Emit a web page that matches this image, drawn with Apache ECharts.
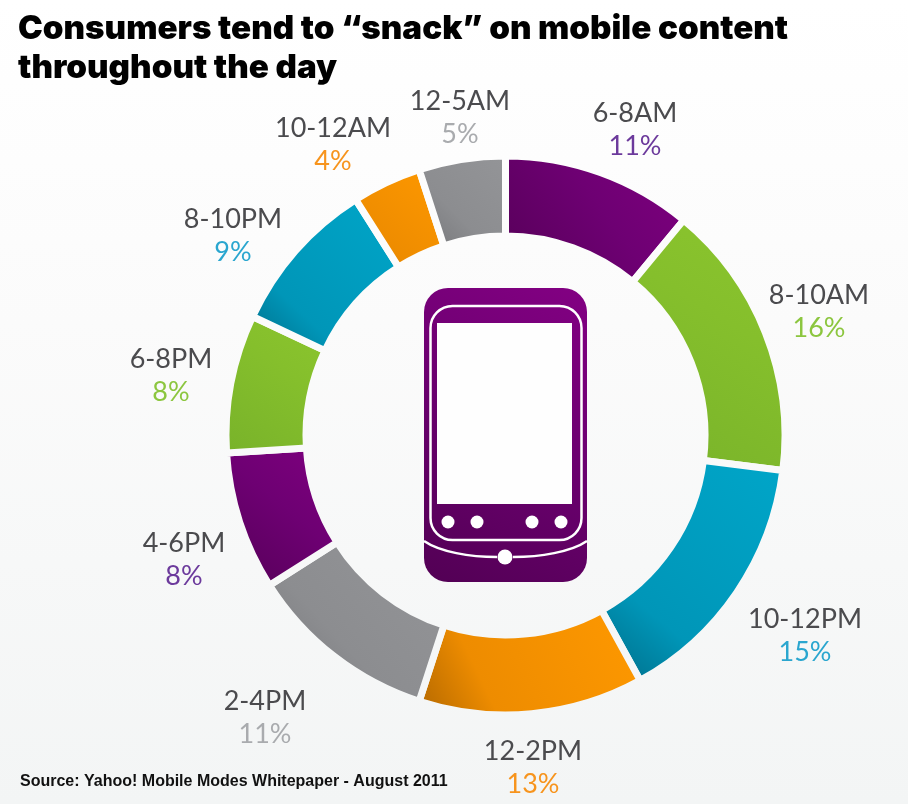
<!DOCTYPE html>
<html><head><meta charset="utf-8">
<style>html,body{margin:0;padding:0;background:#fff}#c{width:908px;height:804px}</style>
<script src="https://cdn.jsdelivr.net/npm/echarts@6/dist/echarts.min.js"></script>
</head><body><div id="c"></div>
<script>
const categories = ['6-8AM','8-10AM','10-12PM','12-2PM','2-4PM','4-6PM','6-8PM','8-10PM','10-12AM','12-5AM'];
const shares = [11,16,15,13,11,8,8,9,4,5];
const hues = ['purple','green','blue','orange','gray','purple','green','blue','orange','gray'];
const titleText = 'Consumers tend to “snack” on mobile content\nthroughout the day';
const sourceText = 'Source: Yahoo! Mobile Modes Whitepaper - August 2011';

// Styling tables (not data)
const labelCentres = [[635,130],[819,312],[805,636],[533,768],[265,718],[184,560],[171,376],[233,236],[333,145],[460,118]];
const sliceStops = {
  purple:[[0,'#540056'],[0.55,'#6e0073'],[1,'#800080']],
  green:[[0,'#78b22a'],[0.6,'#85bf2c'],[1,'#8cc62e']],
  blue:[[0,'#006a85'],[0.3,'#0096b8'],[1,'#00a6c9']],
  orange:[[0,'#b06600'],[0.3,'#ee8c00'],[1,'#ff9900']],
  gray:[[0,'#737477'],[0.4,'#8c8d90'],[1,'#949598']]
};
const pctColours = {purple:'#6c3a9c',green:'#8cc63f',blue:'#2aa6cf',orange:'#f7941d',gray:'#a9abae'};
const bgStops = [{offset:0,color:'#ffffff'},{offset:0.4,color:'#fbfbfb'},{offset:1,color:'#f3f5f5'}];
const bg = {type:'linear',x:0,y:0,x2:0,y2:804,global:true,colorStops:bgStops};

const grad = h => ({type:'linear',x:0,y:1,x2:1,y2:0,colorStops:sliceStops[h].map(s=>({offset:s[0],color:s[1]}))});
const rich = {n:{fontFamily:'Lato',fontSize:27,color:'#4b4b4e',lineHeight:33,align:'center'}};
Object.keys(pctColours).forEach(k=>{rich[k]={fontFamily:'Lato',fontSize:27,color:pctColours[k],lineHeight:33,align:'center'};});

const phoneFill = {type:'linear',x:0,y:1,x2:1,y2:0,colorStops:[{offset:0,color:'#520054'},{offset:0.5,color:'#6a006e'},{offset:1,color:'#830083'}]};
const phone = [
  {type:'rect',shape:{x:424,y:288,width:163,height:294,r:24},style:{fill:phoneFill}},
  {type:'rect',shape:{x:430.5,y:306,width:151,height:234,r:22},style:{fill:'none',stroke:'#fff',lineWidth:2.5}},
  {type:'rect',shape:{x:437,y:323,width:135,height:181},style:{fill:'#fefefe'}},
  ...[448,477,532,561].map(x=>({type:'circle',shape:{cx:x,cy:522,r:6.5},style:{fill:'#fff'}})),
  {type:'bezierCurve',shape:{x1:424,y1:541,cpx1:440,cpy1:552,x2:497,y2:557,cpx2:470,cpy2:557},style:{fill:'none',stroke:'#fff',lineWidth:2.5}},
  {type:'bezierCurve',shape:{x1:587,y1:541,cpx1:571,cpy1:552,x2:513,y2:557,cpx2:540,cpy2:557},style:{fill:'none',stroke:'#fff',lineWidth:2.5}},
  {type:'circle',shape:{cx:505,cy:557,r:7.5},style:{fill:'#fff'}}
];

const chart = echarts.init(document.getElementById('c'),null,{renderer:'canvas'});
chart.setOption({
  animation:false,
  backgroundColor:bg,
  title:[
    {text:titleText,left:18,top:10,padding:0,textStyle:{fontFamily:'Inter',fontWeight:900,fontSize:33.2,lineHeight:39,color:'#000'}},
    {text:sourceText,left:20,top:774,padding:0,textStyle:{fontFamily:'Liberation Sans',fontWeight:'bold',fontSize:16,color:'#111'}}
  ],
  graphic:phone.map(g=>Object.assign({silent:true,z:10},g)),
  series:[{
    type:'pie',
    center:[505.5,435.5],
    radius:[199.5,279.5],
    startAngle:90,
    clockwise:true,
    avoidLabelOverlap:false,
    itemStyle:{borderColor:bg,borderWidth:7},
    label:{show:true,position:'outside',formatter:p=>`{n|${p.name}}\n{${hues[p.dataIndex]}|${p.value}%}`,rich:rich},
    labelLine:{show:false},
    labelLayout:p=>({x:labelCentres[p.dataIndex][0],y:labelCentres[p.dataIndex][1],align:'center',verticalAlign:'middle'}),
    data:categories.map((c,i)=>({name:c,value:shares[i],itemStyle:{color:grad(hues[i])}}))
  }]
});
</script></body></html>
